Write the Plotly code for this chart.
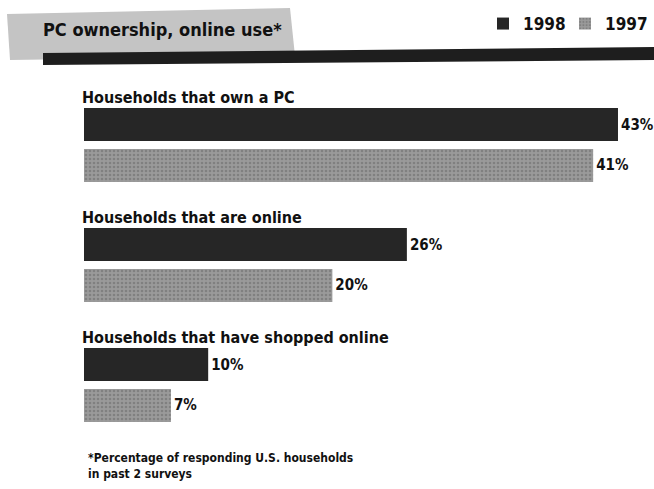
import plotly.graph_objects as go

# ---- data ----
groups = ["Households that own a PC",
          "Households that are online",
          "Households that have shopped online"]
vals_1998 = [43, 26, 10]
vals_1997 = [41, 20, 7]
series_names = ["1998", "1997"]
title_text = "PC ownership, online use*"
footnote = "*Percentage of responding U.S. households<br>in past 2 surveys"

W, H = 654, 489
L, R, T, B = 84, 0, 85, 44
PW, PH = W - L - R, H - T - B
FONT = "DejaVu Sans Condensed, Liberation Sans Narrow, Arial Narrow, sans-serif"


def px(x):
    return (x - L) / PW


def py(y):
    return (H - B - y) / PH


fig = go.Figure()
fig.add_trace(go.Bar(
    y=groups, x=vals_1998, orientation="h", name=series_names[0],
    marker=dict(color="#262626", line=dict(width=0)),
    text=[f"{v}%" for v in vals_1998], textposition="outside",
    textfont=dict(family=FONT, size=15, color="#111", weight="bold"),
    cliponaxis=False, constraintext="none",
))
fig.add_trace(go.Bar(
    y=groups, x=vals_1997, orientation="h", name=series_names[1],
    marker=dict(color="#8e8e8e", line=dict(width=0),
                pattern=dict(shape=".", bgcolor="#9a9a9a", fgcolor="#666666",
                             size=4, solidity=0.35)),
    text=[f"{v}%" for v in vals_1997], textposition="outside",
    textfont=dict(family=FONT, size=15, color="#111", weight="bold"),
    cliponaxis=False, constraintext="none",
))

annotations = []
for g in groups:
    annotations.append(dict(
        x=0, y=g, xref="x", yref="y", text=g, showarrow=False,
        xanchor="left", yanchor="middle", yshift=48, xshift=-4,
        font=dict(family=FONT, size=16, color="#111", weight="bold"),
    ))
annotations.append(dict(
    x=px(86), y=py(449), xref="paper", yref="paper", text=footnote,
    showarrow=False, xanchor="left", yanchor="top", align="left",
    font=dict(family=FONT, size=12, color="#111", weight="bold"),
))

shapes = [
    # grey brush behind the title
    dict(type="path", xref="paper", yref="paper",
         path=(f"M {px(7)},{py(14)} L {px(290)},{py(8)} L {px(295)},{py(56)} "
               f"L {px(10)},{py(60)} Z"),
         fillcolor="#c4c4c4", line=dict(width=0), layer="below"),
    # thick dark rule under the header
    dict(type="path", xref="paper", yref="paper",
         path=(f"M {px(43)},{py(53)} L {px(654)},{py(47)} L {px(654)},{py(60)} "
               f"L {px(43)},{py(65)} Z"),
         fillcolor="#1e1e1e", line=dict(width=0), layer="above"),
]

fig.update_layout(
    width=W, height=H,
    margin=dict(l=L, r=R, t=T, b=B),
    paper_bgcolor="white", plot_bgcolor="white",
    barmode="group", bargap=0.317, bargroupgap=0.195,
    title=dict(text=title_text, xref="container", yref="container",
               x=43 / W, xanchor="left", y=1 - 30 / H, yanchor="middle",
               font=dict(family=FONT, size=18, color="#111", weight="bold")),
    xaxis=dict(range=[0, 45.9], visible=False, showgrid=False, zeroline=False),
    yaxis=dict(autorange="reversed", visible=False, showgrid=False),
    showlegend=True,
    legend=dict(orientation="h", x=px(483), xanchor="left", y=py(24), yanchor="middle",
                font=dict(family=FONT, size=17, color="#111", weight="bold"),
                itemwidth=30, entrywidth=37, entrywidthmode="pixels",
                bgcolor="rgba(0,0,0,0)", traceorder="normal"),
    annotations=annotations, shapes=shapes,
)

fig.write_html("out.html", config={"displayModeBar": False},
               post_script="document.body.style.margin='0';document.body.style.padding='0';")
